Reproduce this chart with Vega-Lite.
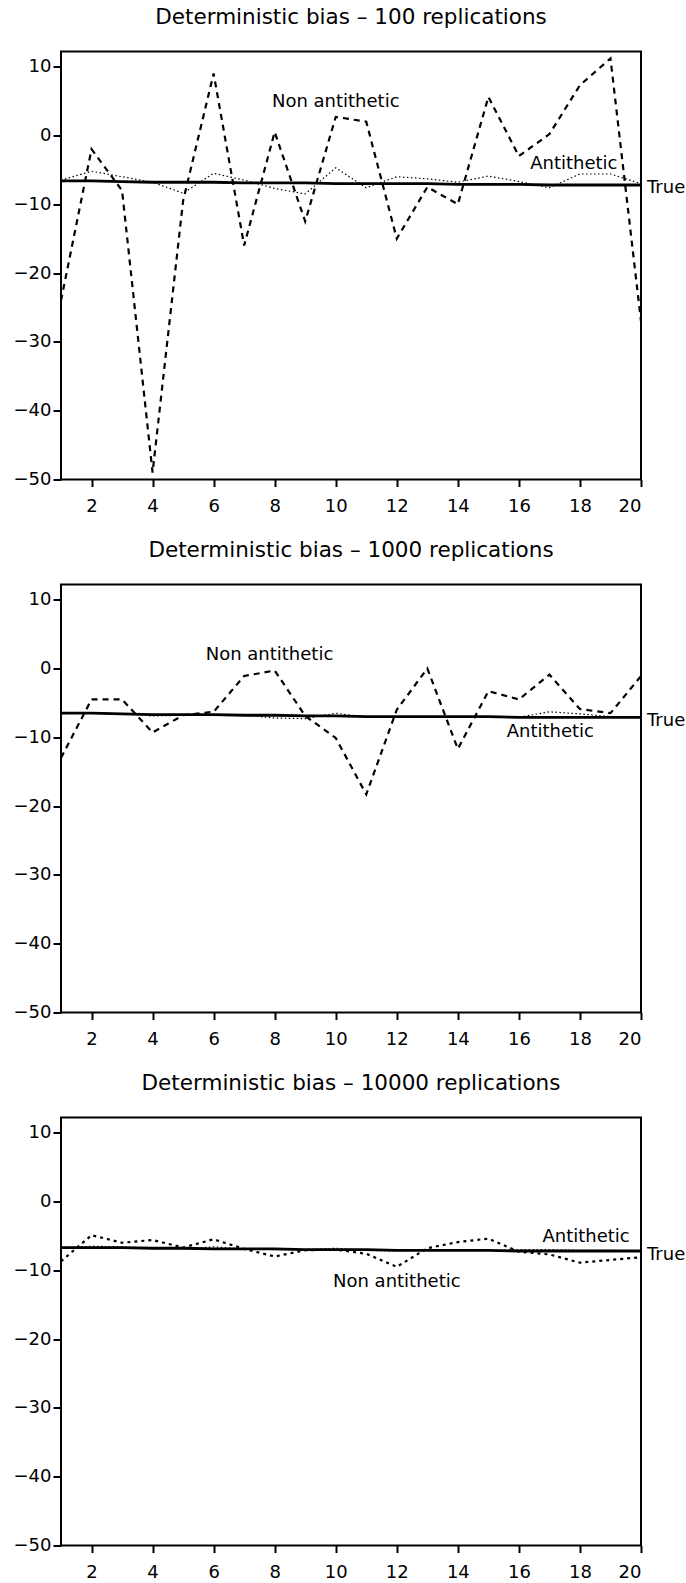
{
  "$schema": "https://vega.github.io/schema/vega-lite/v6.json",
  "padding": {"left": 12, "top": 5.5, "right": 0, "bottom": 0},
  "spacing": 22,
  "config": {
    "font": "DejaVu Sans",
    "view": {"stroke": "black", "strokeWidth": 2},
    "axis": {"grid": false, "domain": false, "tickColor": "black", "tickWidth": 2, "tickSize": 8, "labelColor": "black", "labelFont": "DejaVu Sans", "labelFontSize": 18, "title": null},
    "axisX": {"labelPadding": 11, "tickSize": 7},
    "axisY": {"labelPadding": 2},
    "title": {"font": "DejaVu Sans", "fontSize": 21.5, "fontWeight": "normal", "color": "black", "anchor": "middle", "baseline": "alphabetic", "offset": 23},
    "text": {"font": "DejaVu Sans", "fontSize": 18, "color": "black"}
  },
  "datasets": {
    "p100": [
      {"x": 1, "non": -24, "anti": -6.5, "true": -6.6},
      {"x": 2, "non": -2, "anti": -5.2, "true": -6.6},
      {"x": 3, "non": -8, "anti": -6.0, "true": -6.7},
      {"x": 4, "non": -49, "anti": -6.8, "true": -6.8},
      {"x": 5, "non": -9.5, "anti": -8.4, "true": -6.8},
      {"x": 6, "non": 9, "anti": -5.5, "true": -6.8},
      {"x": 7, "non": -16, "anti": -6.5, "true": -6.9},
      {"x": 8, "non": 0.5, "anti": -7.7, "true": -6.9},
      {"x": 9, "non": -12.5, "anti": -8.5, "true": -6.9},
      {"x": 10, "non": 2.7, "anti": -4.7, "true": -7.0},
      {"x": 11, "non": 2.0, "anti": -7.6, "true": -7.0},
      {"x": 12, "non": -15, "anti": -6.0, "true": -7.0},
      {"x": 13, "non": -7.5, "anti": -6.3, "true": -7.0},
      {"x": 14, "non": -10, "anti": -6.8, "true": -7.1},
      {"x": 15, "non": 5.6, "anti": -5.9, "true": -7.1},
      {"x": 16, "non": -3, "anti": -6.7, "true": -7.1},
      {"x": 17, "non": 0.2, "anti": -7.6, "true": -7.2},
      {"x": 18, "non": 7.3, "anti": -5.6, "true": -7.2},
      {"x": 19, "non": 11.2, "anti": -5.6, "true": -7.2},
      {"x": 20, "non": -27, "anti": -7.0, "true": -7.2}
    ],
    "p1000": [
      {"x": 1, "non": -13, "anti": -6.6, "true": -6.5},
      {"x": 2, "non": -4.5, "anti": -6.4, "true": -6.5},
      {"x": 3, "non": -4.5, "anti": -6.6, "true": -6.6},
      {"x": 4, "non": -9.3, "anti": -6.9, "true": -6.7},
      {"x": 5, "non": -6.8, "anti": -6.8, "true": -6.7},
      {"x": 6, "non": -6.3, "anti": -6.7, "true": -6.7},
      {"x": 7, "non": -1.1, "anti": -6.8, "true": -6.8},
      {"x": 8, "non": -0.3, "anti": -7.2, "true": -6.8},
      {"x": 9, "non": -6.9, "anti": -7.3, "true": -6.9},
      {"x": 10, "non": -10.1, "anti": -6.5, "true": -6.9},
      {"x": 11, "non": -18.3, "anti": -7.1, "true": -7.0},
      {"x": 12, "non": -6, "anti": -7.0, "true": -7.0},
      {"x": 13, "non": 0, "anti": -7.1, "true": -7.0},
      {"x": 14, "non": -11.7, "anti": -7.1, "true": -7.0},
      {"x": 15, "non": -3.3, "anti": -7.0, "true": -7.0},
      {"x": 16, "non": -4.5, "anti": -7.1, "true": -7.1},
      {"x": 17, "non": -0.9, "anti": -6.3, "true": -7.1},
      {"x": 18, "non": -5.9, "anti": -6.6, "true": -7.1},
      {"x": 19, "non": -6.5, "anti": -7.0, "true": -7.1},
      {"x": 20, "non": -1.1, "anti": -7.0, "true": -7.1}
    ],
    "p10000": [
      {"x": 1, "non": -8.7, "anti": -6.8, "true": -6.7},
      {"x": 2, "non": -4.9, "anti": -6.5, "true": -6.7},
      {"x": 3, "non": -6.0, "anti": -6.6, "true": -6.7},
      {"x": 4, "non": -5.6, "anti": -6.8, "true": -6.8},
      {"x": 5, "non": -6.7, "anti": -6.9, "true": -6.8},
      {"x": 6, "non": -5.5, "anti": -6.6, "true": -6.9},
      {"x": 7, "non": -6.9, "anti": -6.9, "true": -6.9},
      {"x": 8, "non": -8.0, "anti": -7.0, "true": -6.9},
      {"x": 9, "non": -7.1, "anti": -7.0, "true": -7.0},
      {"x": 10, "non": -7.0, "anti": -6.8, "true": -7.0},
      {"x": 11, "non": -7.6, "anti": -7.1, "true": -7.0},
      {"x": 12, "non": -9.5, "anti": -7.2, "true": -7.1},
      {"x": 13, "non": -6.8, "anti": -7.0, "true": -7.1},
      {"x": 14, "non": -5.9, "anti": -7.0, "true": -7.1},
      {"x": 15, "non": -5.4, "anti": -7.1, "true": -7.1},
      {"x": 16, "non": -7.3, "anti": -7.0, "true": -7.2},
      {"x": 17, "non": -7.7, "anti": -7.0, "true": -7.2},
      {"x": 18, "non": -8.9, "anti": -7.1, "true": -7.2},
      {"x": 19, "non": -8.5, "anti": -7.1, "true": -7.2},
      {"x": 20, "non": -8.1, "anti": -7.3, "true": -7.2}
    ],
    "lab100": [
      {"x": 10, "y": 4.8, "label": "Non antithetic"},
      {"x": 17.8, "y": -4.1, "label": "Antithetic"},
      {"x": 20, "y": -7.7, "label": "True"}
    ],
    "lab1000": [
      {"x": 7.83, "y": 1.9, "label": "Non antithetic"},
      {"x": 17.03, "y": -9.3, "label": "Antithetic"},
      {"x": 20, "y": -7.7, "label": "True"}
    ],
    "lab10000": [
      {"x": 12.0, "y": -11.7, "label": "Non antithetic"},
      {"x": 18.2, "y": -5.1, "label": "Antithetic"},
      {"x": 20, "y": -7.8, "label": "True"}
    ]
  },
  "vconcat": [
    {
      "width": 580, "height": 428,
      "title": "Deterministic bias – 100 replications",
      "layer": [
        {"data": {"name": "p100"}, "mark": {"type": "line", "color": "black", "strokeWidth": 2.8},
         "encoding": {"x": {"field": "x", "type": "quantitative", "scale": {"domain": [1, 20], "nice": false}, "axis": {"values": [2,4,6,8,10,12,14,16,18,20]}},
                      "y": {"field": "true", "type": "quantitative", "scale": {"domain": [-50, 12.2], "nice": false}, "axis": {"values": [-50,-40,-30,-20,-10,0,10]}}}},
        {"data": {"name": "p100"}, "mark": {"type": "line", "color": "black", "strokeWidth": 1.2, "strokeDash": [1.5, 2.5]},
         "encoding": {"x": {"field": "x", "type": "quantitative"}, "y": {"field": "anti", "type": "quantitative"}}},
        {"data": {"name": "p100"}, "mark": {"type": "line", "color": "black", "strokeWidth": 2.2, "strokeDash": [6, 5]},
         "encoding": {"x": {"field": "x", "type": "quantitative"}, "y": {"field": "non", "type": "quantitative"}}},
        {"data": {"name": "lab100"}, "transform": [{"filter": "datum.label !== 'True'"}], "mark": {"type": "text", "align": "center", "baseline": "middle"},
         "encoding": {"x": {"field": "x", "type": "quantitative"}, "y": {"field": "y", "type": "quantitative"}, "text": {"field": "label"}}},
        {"data": {"name": "lab100"}, "transform": [{"filter": "datum.label === 'True'"}], "mark": {"type": "text", "align": "left", "baseline": "middle", "dx": 6},
         "encoding": {"x": {"field": "x", "type": "quantitative"}, "y": {"field": "y", "type": "quantitative"}, "text": {"field": "label"}}}
      ]
    },
    {
      "width": 580, "height": 428,
      "title": "Deterministic bias – 1000 replications",
      "layer": [
        {"data": {"name": "p1000"}, "mark": {"type": "line", "color": "black", "strokeWidth": 2.8},
         "encoding": {"x": {"field": "x", "type": "quantitative", "scale": {"domain": [1, 20], "nice": false}, "axis": {"values": [2,4,6,8,10,12,14,16,18,20]}},
                      "y": {"field": "true", "type": "quantitative", "scale": {"domain": [-50, 12.2], "nice": false}, "axis": {"values": [-50,-40,-30,-20,-10,0,10]}}}},
        {"data": {"name": "p1000"}, "mark": {"type": "line", "color": "black", "strokeWidth": 1.2, "strokeDash": [1.5, 2.5]},
         "encoding": {"x": {"field": "x", "type": "quantitative"}, "y": {"field": "anti", "type": "quantitative"}}},
        {"data": {"name": "p1000"}, "mark": {"type": "line", "color": "black", "strokeWidth": 2.2, "strokeDash": [6, 5]},
         "encoding": {"x": {"field": "x", "type": "quantitative"}, "y": {"field": "non", "type": "quantitative"}}},
        {"data": {"name": "lab1000"}, "transform": [{"filter": "datum.label !== 'True'"}], "mark": {"type": "text", "align": "center", "baseline": "middle"},
         "encoding": {"x": {"field": "x", "type": "quantitative"}, "y": {"field": "y", "type": "quantitative"}, "text": {"field": "label"}}},
        {"data": {"name": "lab1000"}, "transform": [{"filter": "datum.label === 'True'"}], "mark": {"type": "text", "align": "left", "baseline": "middle", "dx": 6},
         "encoding": {"x": {"field": "x", "type": "quantitative"}, "y": {"field": "y", "type": "quantitative"}, "text": {"field": "label"}}}
      ]
    },
    {
      "width": 580, "height": 428,
      "title": "Deterministic bias – 10000 replications",
      "layer": [
        {"data": {"name": "p10000"}, "mark": {"type": "line", "color": "black", "strokeWidth": 2.8},
         "encoding": {"x": {"field": "x", "type": "quantitative", "scale": {"domain": [1, 20], "nice": false}, "axis": {"values": [2,4,6,8,10,12,14,16,18,20]}},
                      "y": {"field": "true", "type": "quantitative", "scale": {"domain": [-50, 12.2], "nice": false}, "axis": {"values": [-50,-40,-30,-20,-10,0,10]}}}},
        {"data": {"name": "p10000"}, "mark": {"type": "line", "color": "black", "strokeWidth": 1.2, "strokeDash": [1.5, 2.5]},
         "encoding": {"x": {"field": "x", "type": "quantitative"}, "y": {"field": "anti", "type": "quantitative"}}},
        {"data": {"name": "p10000"}, "mark": {"type": "line", "color": "black", "strokeWidth": 2.2, "strokeDash": [3, 4]},
         "encoding": {"x": {"field": "x", "type": "quantitative"}, "y": {"field": "non", "type": "quantitative"}}},
        {"data": {"name": "lab10000"}, "transform": [{"filter": "datum.label !== 'True'"}], "mark": {"type": "text", "align": "center", "baseline": "middle"},
         "encoding": {"x": {"field": "x", "type": "quantitative"}, "y": {"field": "y", "type": "quantitative"}, "text": {"field": "label"}}},
        {"data": {"name": "lab10000"}, "transform": [{"filter": "datum.label === 'True'"}], "mark": {"type": "text", "align": "left", "baseline": "middle", "dx": 6},
         "encoding": {"x": {"field": "x", "type": "quantitative"}, "y": {"field": "y", "type": "quantitative"}, "text": {"field": "label"}}}
      ]
    }
  ]
}
